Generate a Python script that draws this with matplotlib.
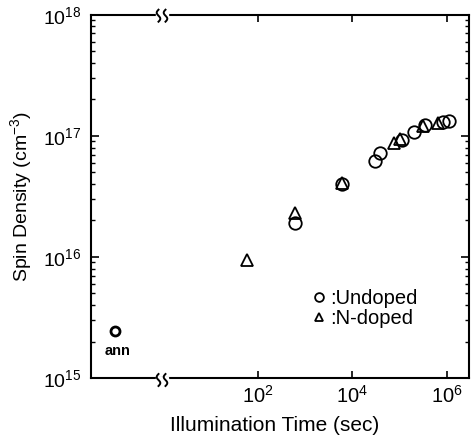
import numpy as np
import matplotlib
matplotlib.use("Agg")
import matplotlib.pyplot as plt
from matplotlib.ticker import FixedLocator, NullLocator, LogLocator, NullFormatter

plt.rcParams['font.family'] = ['Liberation Sans', 'DejaVu Sans']
plt.rcParams['mathtext.default'] = 'regular'

# data
undoped_t = [600, 6000, 3.0e4, 3.9e4, 1.1e5, 2.0e5, 3.5e5, 8.5e5, 1.1e6]
undoped_n = [1.9e16, 4.0e16, 6.2e16, 7.2e16, 9.3e16, 1.07e17, 1.23e17, 1.31e17, 1.32e17]
ndoped_t = [60, 600, 6000, 7.6e4, 1.0e5, 3.2e5, 6.5e5]
ndoped_n = [9.5e15, 2.3e16, 4.1e16, 8.7e16, 9.4e16, 1.2e17, 1.27e17]
ann_x = [0.34]
ann_n = [2.45e15]

W, H = 471, 444
fig = plt.figure(figsize=(W / 100, H / 100), dpi=100)

x_left, x_brk, x_right = 91, 162, 469
y_top, y_bot = 14.7, 378

def fx(px):
    return px / W

def fy(py):
    return 1 - py / H

axL = fig.add_axes([fx(x_left), fy(y_bot), fx(x_brk - x_left), fy(y_top) - fy(y_bot)])
axR = fig.add_axes([fx(x_brk), fy(y_bot), fx(x_right - x_brk), fy(y_top) - fy(y_bot)])

for ax in (axL, axR):
    ax.set_yscale('log')
    ax.set_ylim(1e15, 1e18)
    for s in ax.spines.values():
        s.set_linewidth(1.5)
    ax.patch.set_alpha(0)

axL.spines['right'].set_visible(False)
axR.spines['left'].set_visible(False)

# left part (annealed)
axL.set_xlim(0, 1)
axL.xaxis.set_major_locator(NullLocator())
axL.yaxis.set_major_locator(LogLocator(base=10, numticks=10))
axL.yaxis.set_minor_locator(LogLocator(base=10, subs=np.arange(2, 10), numticks=20))
axL.yaxis.set_minor_formatter(NullFormatter())
axL.tick_params(axis='y', which='major', direction='in', length=6, width=1.2, labelsize=14, pad=7)
axL.tick_params(axis='y', which='minor', direction='in', length=3, width=1)
axL.plot(ann_x, ann_n, 'o', ms=6.5, mfc='none', mec='black', mew=2)
axL.text(ann_x[0] + 0.03, ann_n[0] * 0.78, 'ann', ha='center', va='top', fontsize=10.5, fontweight='bold')
axL.set_ylabel('Spin Density (cm$^{-3}$)', fontsize=14, labelpad=6)

# main log part
axR.set_xscale('log')
axR.set_xlim(10 ** -0.03, 10 ** 6.47)
axR.xaxis.set_major_locator(FixedLocator([1e2, 1e4, 1e6]))
axR.xaxis.set_minor_locator(NullLocator())
axR.tick_params(axis='x', which='major', direction='in', length=5, width=1.2, top=True,
                labelsize=14.5, pad=5)
axR.yaxis.set_major_locator(LogLocator(base=10, numticks=10))
axR.yaxis.set_minor_locator(LogLocator(base=10, subs=np.arange(2, 10), numticks=20))
axR.yaxis.set_minor_formatter(NullFormatter())
axR.tick_params(axis='y', which='both', left=False, right=True, labelleft=False, direction='in')
axR.tick_params(axis='y', which='major', length=6, width=1.2)
axR.tick_params(axis='y', which='minor', length=3, width=1)

axR.plot(undoped_t, undoped_n, 'o', ms=9, mfc='none', mec='black', mew=1.3, label=':Undoped')
axR.plot(ndoped_t, ndoped_n, '^', ms=8.5, mfc='none', mec='black', mew=1.3, label=':N-doped')
leg = axR.legend(loc='upper left', bbox_to_anchor=(fx(311), fy(289)), bbox_transform=fig.transFigure,
                 frameon=False, fontsize=14.5, borderpad=0, borderaxespad=0,
                 handletextpad=0.15, handlelength=0.8, labelspacing=0.05, markerscale=0.7)

fig.text(fx(275), fy(425), 'Illumination Time (sec)', ha='center', va='center', fontsize=15)

# axis break marks
t = np.linspace(-1, 1, 30)
for yb in (y_top + 1, y_bot + 2):
    fig.patches.append(plt.Rectangle((fx(x_brk - 6), fy(yb + 3)), fx(12), fy(yb - 3) - fy(yb + 3),
                                     transform=fig.transFigure, color='white', zorder=5))
    for x0 in (x_brk - 3.5, x_brk + 3.5):
        xs = x0 + 1.8 * np.sin(np.pi * t)
        ys = yb + 6 * t
        fig.lines.append(plt.Line2D(fx(xs), fy(ys), transform=fig.transFigure, color='black',
                                    lw=1.4, zorder=6))

fig.savefig('out.png', dpi=100)
